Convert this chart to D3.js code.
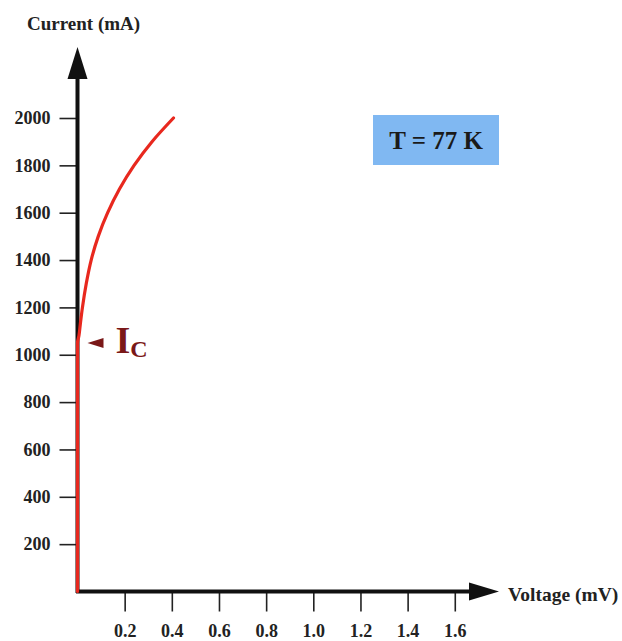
<!DOCTYPE html>
<html><head><meta charset="utf-8">
<script src="https://cdn.jsdelivr.net/npm/d3@7"></script>
<style>
html,body{margin:0;padding:0;background:#fff;}
svg{display:block;}
text{font-family:"Liberation Serif","Times New Roman",serif;font-weight:bold;}
</style></head>
<body>
<script>
// Data (voltage in mV, current in mA)
const voltage = [0, 0, 0.006, 0.012, 0.021, 0.037, 0.058, 0.088, 0.128, 0.178, 0.240, 0.316, 0.407];
const current = [0, 1050, 1080, 1130, 1200, 1300, 1400, 1500, 1600, 1700, 1800, 1900, 2000];
const xTicks = [0.2, 0.4, 0.6, 0.8, 1.0, 1.2, 1.4, 1.6];
const yTicks = [200, 400, 600, 800, 1000, 1200, 1400, 1600, 1800, 2000];
const criticalCurrent = 1050;
const tempLabel = "T = 77 K";
const xLabel = "Voltage (mV)";
const yLabel = "Current (mA)";

const W = 622, H = 641;
const svg = d3.select("body").append("svg").attr("width", W).attr("height", H);

const x = d3.scaleLinear().domain([0, 1.6]).range([77.5, 77.5 + 1.6 * 235.8]);
const y = d3.scaleLinear().domain([0, 2000]).range([591.5, 118]);

// Y axis ticks/labels
const yAxis = d3.axisLeft(y).tickValues(yTicks).tickSize(18).tickPadding(9).tickFormat(d3.format("d"));
const gy = svg.append("g").attr("transform", `translate(${x(0)},0)`).call(yAxis);
gy.select(".domain").remove();
gy.selectAll(".tick line").attr("stroke", "#222").attr("stroke-width", 1.6);
gy.selectAll(".tick text").attr("font-size", 18).attr("fill", "#222");

// X axis ticks/labels
const xAxis = d3.axisBottom(x).tickValues(xTicks).tickSize(20).tickPadding(13).tickFormat(d3.format(".1f"));
const gx = svg.append("g").attr("transform", `translate(0,${y(0)})`).call(xAxis);
gx.select(".domain").remove();
gx.selectAll(".tick line").attr("stroke", "#222").attr("stroke-width", 1.6);
gx.selectAll(".tick text").attr("font-size", 18).attr("fill", "#222");

// Axis lines with arrowheads
const x0 = x(0), y0 = y(0);
svg.append("line").attr("x1", x0).attr("y1", y0 + 1.5).attr("x2", x0).attr("y2", 76)
  .attr("stroke", "#111").attr("stroke-width", 4);
svg.append("path").attr("d", `M${x0},47 L${x0 - 10},79 L${x0 + 10},79 Z`).attr("fill", "#111");
svg.append("line").attr("x1", x0 - 1.5).attr("y1", y0).attr("x2", 472).attr("y2", y0)
  .attr("stroke", "#111").attr("stroke-width", 4);
svg.append("path").attr("d", `M499,${y0} L469,${y0 - 9} L469,${y0 + 9} Z`).attr("fill", "#111");

// Axis labels
svg.append("text").attr("x", 27).attr("y", 30).attr("font-size", 19).attr("fill", "#222").text(yLabel);
svg.append("text").attr("x", 508).attr("y", 601).attr("font-size", 19.5).attr("fill", "#222").text(xLabel);

// Curve
const pts = voltage.map((v, i) => [v, current[i]]);
svg.append("path").datum(pts)
  .attr("d", d3.line().x(d => x(d[0])).y(d => y(d[1])).curve(d3.curveMonotoneY))
  .attr("fill", "none").attr("stroke", "#e8281e").attr("stroke-width", 3.2)
  .attr("stroke-linecap", "round").attr("stroke-linejoin", "round");

// Critical current annotation
const yc = y(criticalCurrent);
svg.append("path").attr("d", `M${x0 + 10},${yc} L${x0 + 26},${yc - 5} L${x0 + 26},${yc + 5} Z`).attr("fill", "#7a1818");
const ic = svg.append("text").attr("x", x0 + 38).attr("y", yc + 10).attr("fill", "#7a1818");
ic.append("tspan").attr("font-size", 38).text("I");
ic.append("tspan").attr("font-size", 24).attr("dy", 4).text("C");

// Temperature box
svg.append("rect").attr("x", 373).attr("y", 115).attr("width", 126).attr("height", 50).attr("fill", "#80b8f2");
svg.append("text").attr("x", 436).attr("y", 140).attr("text-anchor", "middle").attr("dominant-baseline", "central")
  .attr("font-size", 25).attr("fill", "#1a1a1a").text(tempLabel);
</script>
</body></html>
